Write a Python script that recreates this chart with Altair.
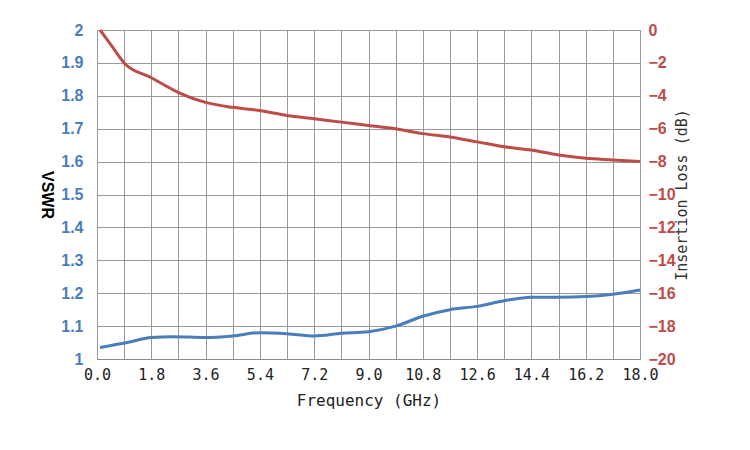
import altair as alt
import pandas as pd

vswr_freq = [0.1, 1.0, 1.8, 2.5, 3.6, 4.5, 5.4, 6.3, 7.2, 8.1, 9.0, 9.9, 10.8, 11.7, 12.6, 13.5, 14.4, 15.3, 16.2, 17.1, 18.0]
vswr = [1.035, 1.05, 1.065, 1.068, 1.065, 1.07, 1.08, 1.077, 1.07, 1.078, 1.083, 1.1, 1.13, 1.15, 1.16, 1.177, 1.188, 1.188, 1.19, 1.197, 1.21]

il_freq = [0.1, 0.5, 0.9, 1.8, 2.7, 3.6, 4.5, 5.4, 6.3, 7.2, 8.1, 9.0, 9.9, 10.8, 11.7, 12.6, 13.5, 14.4, 15.3, 16.2, 17.1, 18.0]
il = [0.0, -1.0, -2.0, -2.9, -3.8, -4.4, -4.7, -4.9, -5.2, -5.4, -5.6, -5.8, -6.0, -6.3, -6.5, -6.8, -7.1, -7.3, -7.6, -7.8, -7.9, -8.0]

x_ticks = [round(0.9 * i, 1) for i in range(21)]

df_v = pd.DataFrame({'f': vswr_freq, 'v': vswr})
df_i = pd.DataFrame({'f': il_freq, 'v': il})

x_enc = alt.X('f:Q', title='Frequency (GHz)',
              scale=alt.Scale(domain=[0, 18], nice=False),
              axis=alt.Axis(values=x_ticks, format='.1f', labelFlush=False,
                            labelExpr="round(datum.value*10) % 18 == 0 ? format(datum.value, '.1f') : ''",
                            labelFont='DejaVu Sans Mono', labelFontSize=15, labelColor='#222',
                            titleFont='DejaVu Sans Mono', titleFontSize=16, titleFontWeight='normal',
                            titleColor='#222', titlePadding=10,
                            grid=True, gridColor='#999', tickSize=0, labelPadding=8))

blue = alt.Chart(df_v).mark_line(color='#4a7ebb', strokeWidth=3, interpolate='monotone').encode(
    x=x_enc,
    y=alt.Y('v:Q', title='VSWR', scale=alt.Scale(domain=[1, 2], nice=False),
            axis=alt.Axis(values=[1 + i / 10 for i in range(11)], format='~g',
                          labelColor='#4a7ebb', labelFont='Liberation Sans', labelFontWeight='bold',
                          labelFontSize=16, titleFontSize=16, titleFontWeight='bold',
                          titleAngle=90, titleColor='black', titlePadding=22, gridColor='#999', tickSize=0,
                          domain=False, labelPadding=14))
)

red = alt.Chart(df_i).mark_line(color='#be4b48', strokeWidth=3, interpolate='monotone').encode(
    x=x_enc,
    y=alt.Y('v:Q', title='Insertion Loss (dB)', scale=alt.Scale(domain=[-20, 0], nice=False),
            axis=alt.Axis(orient='right', values=list(range(-20, 1, 2)),
                          labelColor='#be4b48', labelFont='Liberation Sans', labelFontWeight='bold',
                          labelFontSize=16, titleFont='DejaVu Sans Mono', titleFontSize=15,
                          titleFontWeight='normal', titleColor='#333', titleAngle=270, titlePadding=14,
                          grid=False, tickSize=0, domain=False, labelPadding=8))
)

chart = alt.layer(blue, red).resolve_scale(y='independent').properties(
    width=543, height=329, background='white',
    padding={'left': 30, 'top': 14, 'right': 5, 'bottom': 5}
).configure_view(stroke='#999')

chart.save("out.html", embed_options={"renderer": "svg", "actions": False})
